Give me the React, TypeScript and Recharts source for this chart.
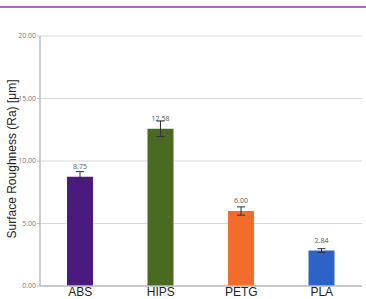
import { BarChart, Bar, XAxis, YAxis, CartesianGrid, Cell, ErrorBar, LabelList } from 'recharts';

const materials = ['ABS', 'HIPS', 'PETG', 'PLA'];
const roughness = [8.75, 12.58, 6.0, 2.84];
const errors = [0.4, 0.62, 0.33, 0.15];
const barColors = ['#4a1a7e', '#4a6a22', '#f26c2b', '#2d62c6'];
const yTicks = [0, 5, 10, 15, 20];

const data = materials.map((name, i) => ({ name, value: roughness[i], err: errors[i] }));

export default function App() {
  return (
    <div style={{ position: 'absolute', left: 0, top: 0, width: 366, height: 299, overflow: 'hidden', background: '#fff' }}>
      <div style={{ position: 'absolute', left: 0, top: 6, width: 366, height: 2, background: '#a96cc1' }} />
      <BarChart width={366} height={310} data={data} margin={{ top: 36, right: 4, left: 0, bottom: 0 }}>
        <CartesianGrid vertical={false} stroke="#d8d8d8" />
        <XAxis
          dataKey="name"
          height={24}
          tickSize={0}
          tickMargin={1}
          axisLine={{ stroke: '#bdbdbd', strokeWidth: 1.5 }}
          tick={{ fill: '#222', fontSize: 12, fontFamily: 'Liberation Sans, Arial, sans-serif' }}
        />
        <YAxis
          width={40}
          domain={[0, 20]}
          ticks={yTicks}
          tickFormatter={(v: number) => v.toFixed(2)}
          tickSize={3}
          tickMargin={1}
          axisLine={{ stroke: '#bdbdbd', strokeWidth: 1.5 }}
          tickLine={{ stroke: '#bdbdbd' }}
          tick={{ fill: '#777', fontSize: 7, fontFamily: 'Open Sans, sans-serif' }}
          label={{
            value: 'Surface Roughness (Ra) [μm]',
            angle: -90,
            position: 'center',
            dx: -8,
            dy: -2,
            fill: '#222',
            style: { fill: '#222', fontSize: 12, fontFamily: 'Liberation Sans, Arial, sans-serif' },
          }}
        />
        <YAxis
          yAxisId="r"
          orientation="right"
          width={0}
          domain={[0, 20]}
          tick={false}
          tickLine={false}
          axisLine={{ stroke: '#bdbdbd', strokeWidth: 1.5 }}
        />
        <Bar dataKey="value" barSize={26} isAnimationActive={false}>
          {data.map((d, i) => (
            <Cell key={d.name} fill={barColors[i]} />
          ))}
          <ErrorBar dataKey="err" direction="y" width={4} stroke="#333" strokeWidth={1} isAnimationActive={false} />
          <LabelList
            dataKey="value"
            position="top"
            offset={8}
            fill="#555"
            formatter={(v: any) => Number(v).toFixed(2)}
            style={{ fill: '#555', fontSize: 7, fontFamily: 'Open Sans, sans-serif' }}
          />
        </Bar>
      </BarChart>
    </div>
  );
}
